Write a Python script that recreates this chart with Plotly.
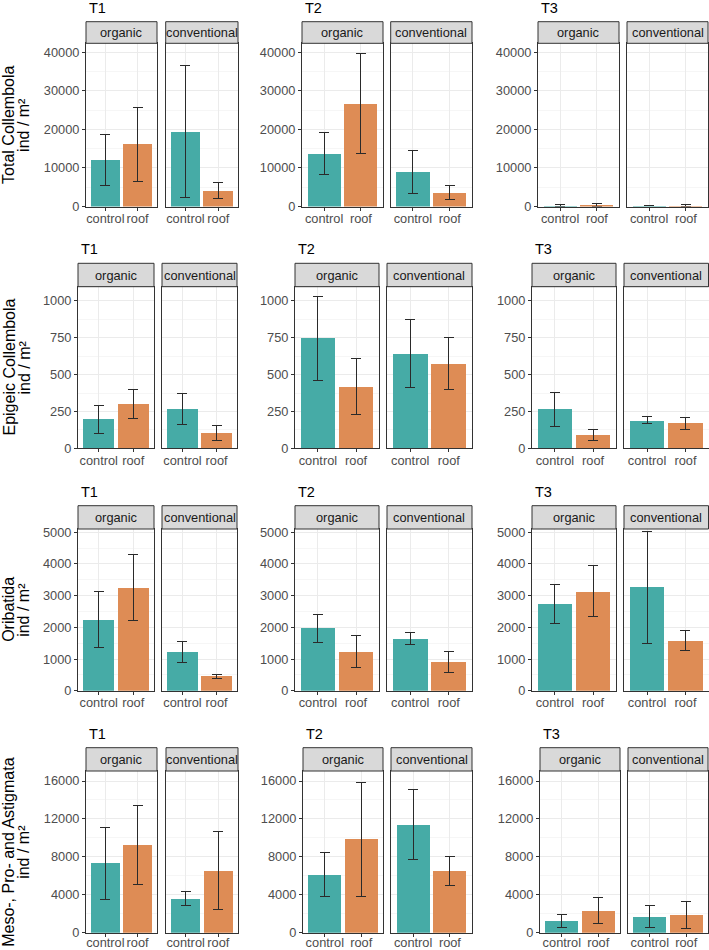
import plotly.graph_objects as go

W, H = 709, 950

# ---------------- data ----------------
times = ["T1", "T2", "T3"]
systems = ["organic", "conventional"]
treatments = ["control", "roof"]
y_titles = ["Total Collembola", "Epigeic Collembola", "Oribatida", "Meso-, Pro- and Astigmata"]
unit_label = "ind / m²"

# order per row: T1 org control, T1 org roof, T1 conv control, T1 conv roof, T2 ..., T3 ...
total_mean = [12000, 16150, 19350, 4050, 13700, 26700, 8900, 3600, 250, 300, 190, 200]
total_low = [5450, 6400, 2300, 2000, 8400, 13800, 3350, 1800, 100, 100, 170, 40]
total_high = [18550, 25750, 36450, 6300, 19150, 39700, 14500, 5550, 550, 650, 215, 450]

epi_mean = [197, 301, 265, 104, 747, 418, 640, 572, 265, 90, 187, 170]
epi_low = [102, 201, 163, 56, 462, 231, 414, 398, 151, 52, 170, 129]
epi_high = [292, 398, 369, 153, 1032, 608, 871, 749, 380, 131, 215, 210]

ori_mean = [2242, 3252, 1222, 455, 1970, 1222, 1642, 916, 2728, 3126, 3265, 1569]
ori_low = [1348, 2210, 906, 392, 1516, 717, 1465, 581, 2116, 2337, 1497, 1263]
ori_high = [3138, 4307, 1538, 505, 2421, 1749, 1832, 1253, 3360, 3937, 5021, 1885]

meso_mean = [7321, 9251, 3587, 6540, 6118, 9852, 11392, 6540, 1204, 2301, 1699, 1841]
meso_low = [3523, 5063, 2848, 2426, 3871, 3871, 7700, 4993, 566, 956, 531, 425]
meso_high = [11045, 13365, 4325, 10622, 8407, 15865, 15126, 8017, 1876, 3717, 2903, 3292]

row_means = [total_mean, epi_mean, ori_mean, meso_mean]
row_lows = [total_low, epi_low, ori_low, meso_low]
row_highs = [total_high, epi_high, ori_high, meso_high]

# ---------------- layout geometry (pixels) ----------------
y_max = [42330, 1097, 5104, 17055]
y_step = [10000, 250, 1000, 4000]
row_geom = [(21.7, 43.3, 206.5), (263.3, 286.7, 448.3), (505.7, 529.0, 690.7), (747.7, 771.0, 932.7)]
label_standoff = [-3, -3, -3, -5]
col_geom = [
    [(86, 157), (165.7, 238), (302, 383), (390.7, 472), (538, 619), (627, 708)],
    [(78, 154), (162, 237), (295, 379), (387, 472), (532, 616), (624, 708.5)],
    [(78, 154), (162, 237), (295, 379), (387, 472), (532, 616), (624, 708.5)],
    [(86, 157), (166, 238), (303, 383), (391, 472), (540, 620), (628, 708)],
]

TEAL = "#46ABA6"
ORANGE = "#DE8C55"
FONT = "Liberation Sans, Arial, sans-serif"
GRID = "#EBEBEB"
BORDER = "#333333"


def px_x(v):
    return v / W


def px_y(v):
    return 1 - v / H


fig = go.Figure()
layout = {}
shapes = []
annotations = []

k = 0
for r in range(4):
    strip_top, panel_top, panel_bot = row_geom[r]
    for c in range(3):
        for f in range(2):
            k += 1
            idx = c * 4 + f * 2
            means = row_means[r][idx:idx + 2]
            lows = row_lows[r][idx:idx + 2]
            highs = row_highs[r][idx:idx + 2]
            x0, x1 = col_geom[r][c * 2 + f]
            xa = "x" if k == 1 else f"x{k}"
            ya = "y" if k == 1 else f"y{k}"
            fig.add_trace(go.Bar(
                x=[1, 2], y=means, width=0.9,
                marker=dict(color=[TEAL, ORANGE], line=dict(width=0)),
                error_y=dict(type="data", symmetric=False,
                             array=[h - m for h, m in zip(highs, means)],
                             arrayminus=[m - l for m, l in zip(means, lows)],
                             color="#2A2A2A", thickness=1, width=5),
                xaxis=xa, yaxis=ya, showlegend=False, hoverinfo="skip",
            ))
            xname = "xaxis" if k == 1 else f"xaxis{k}"
            yname = "yaxis" if k == 1 else f"yaxis{k}"
            layout[xname] = dict(
                domain=[px_x(x0), px_x(x1)], anchor=ya, range=[0.4, 2.6],
                tickmode="array", tickvals=[1, 2], ticktext=treatments, tickangle=0,
                showgrid=True, gridcolor=GRID, gridwidth=1,
                showline=True, mirror=True, linecolor=BORDER, linewidth=1,
                ticks="outside", ticklen=3, tickcolor=BORDER, tickwidth=1,
                ticklabelstandoff=label_standoff[r],
                tickfont=dict(family=FONT, size=12.8, color="#4D4D4D"),
                zeroline=False, fixedrange=True, automargin=False,
            )
            ydict = dict(
                domain=[px_y(panel_bot), px_y(panel_top)], anchor=xa,
                range=[0, y_max[r]], tickmode="linear", tick0=0, dtick=y_step[r],
                tickformat="d",
                showgrid=True, gridcolor=GRID, gridwidth=1,
                minor=dict(tick0=0, dtick=y_step[r] / 2, showgrid=True,
                           gridcolor="#F0F0F0", gridwidth=0.6, ticks=""),
                showline=True, mirror=True, linecolor=BORDER, linewidth=1,
                zeroline=False, fixedrange=True, automargin=False,
                tickfont=dict(family=FONT, size=12.8, color="#4D4D4D"),
            )
            if f == 0:
                ydict.update(ticks="outside", ticklen=3, tickcolor=BORDER, tickwidth=1,
                             showticklabels=True)
            else:
                ydict.update(ticks="", showticklabels=False)
            layout[yname] = ydict

            # strip
            shapes.append(dict(type="rect", xref="paper", yref="paper",
                               x0=px_x(x0), x1=px_x(x1),
                               y0=px_y(panel_top), y1=px_y(strip_top),
                               fillcolor="#D9D9D9", line=dict(color=BORDER, width=1),
                               layer="above"))
            annotations.append(dict(
                x=px_x((x0 + x1) / 2), y=px_y((strip_top + panel_top) / 2),
                xref="paper", yref="paper", text=systems[f], showarrow=False,
                xanchor="center", yanchor="middle",
                font=dict(family=FONT, size=12.8, color="#1A1A1A")))
            if f == 0:
                annotations.append(dict(
                    x=px_x(x0 + 1), y=px_y(strip_top - 14),
                    xref="paper", yref="paper", text=times[c], showarrow=False,
                    xanchor="left", yanchor="middle",
                    font=dict(family=FONT, size=14.5, color="#000000")))

    # y titles
    yc = (panel_top + panel_bot) / 2
    annotations.append(dict(x=px_x(9), y=px_y(yc), xref="paper", yref="paper",
                            text=y_titles[r], showarrow=False, textangle=-90,
                            xanchor="center", yanchor="middle",
                            font=dict(family=FONT, size=16, color="#000000")))
    annotations.append(dict(x=px_x(24), y=px_y(yc), xref="paper", yref="paper",
                            text=unit_label, showarrow=False, textangle=-90,
                            xanchor="center", yanchor="middle",
                            font=dict(family=FONT, size=16, color="#000000")))

fig.update_layout(
    template="none",
    width=W, height=H, margin=dict(l=0, r=0, t=0, b=0, pad=0, autoexpand=False),
    paper_bgcolor="white", plot_bgcolor="white",
    shapes=shapes, annotations=annotations, bargap=0,
    font=dict(family=FONT), **layout,
)

fig.write_html("out.html",
               config={"displayModeBar": False, "staticPlot": True},
               post_script="document.body.style.margin='0';document.body.style.overflow='hidden';")
